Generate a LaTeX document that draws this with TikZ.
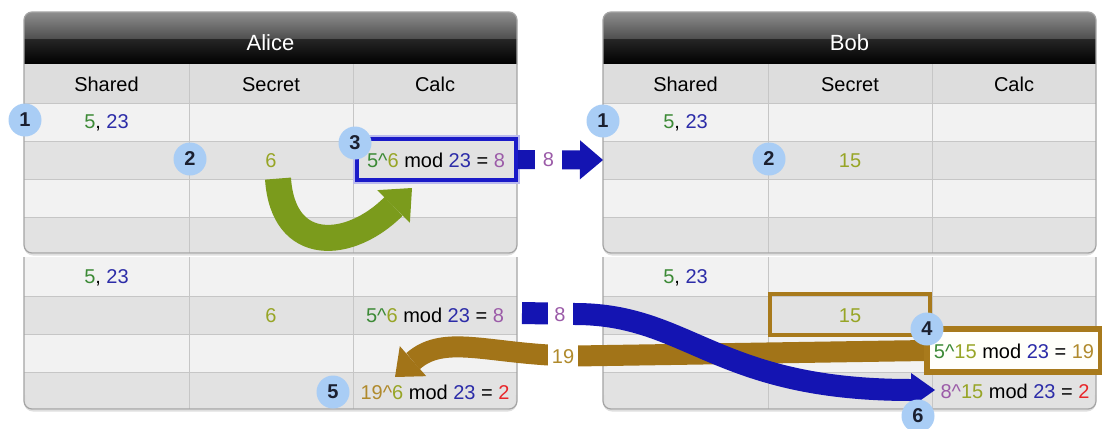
\documentclass[tikz,border=0pt]{standalone}
\usepackage{fontspec}
\setmainfont{Liberation Sans}
\usetikzlibrary{arrows.meta}

% table colours
\definecolor{hdrtop}{HTML}{8E8E8E}
\definecolor{hdrmid}{HTML}{4E4E4E}
\definecolor{hdrlow}{HTML}{262626}
\definecolor{colhead}{HTML}{DDDDDD}
\definecolor{rowlight}{HTML}{F2F2F2}
\definecolor{rowdark}{HTML}{E2E2E2}
\definecolor{gridc}{HTML}{C6C6C6}
\definecolor{framec}{HTML}{A4A4A4}
% text colours
\definecolor{tgreenc}{HTML}{3C8A36}
\definecolor{tbluec}{HTML}{2C2CA8}
\definecolor{tolivec}{HTML}{97A526}
\definecolor{tpurplec}{HTML}{9B5BA8}
\definecolor{tredc}{HTML}{E8262A}
\definecolor{tbrownc}{HTML}{B08A2C}
% markers and arrows
\definecolor{badgec}{HTML}{A9CDF5}
\definecolor{badgetext}{HTML}{1B2030}
\definecolor{arrowblue}{HTML}{1414B2}
\definecolor{arrowbrown}{HTML}{A27418}
\definecolor{arrowgreen}{HTML}{7B9B1C}
\definecolor{boxblue}{HTML}{1A1AC8}
\definecolor{boxbrown}{HTML}{A87A1C}

\newcommand\tgreen[1]{\textcolor{tgreenc}{#1}}
\newcommand\tblue[1]{\textcolor{tbluec}{#1}}
\newcommand\tolive[1]{\textcolor{tolivec}{#1}}
\newcommand\tpurple[1]{\textcolor{tpurplec}{#1}}
\newcommand\tred[1]{\textcolor{tredc}{#1}}
\newcommand\tbrown[1]{\textcolor{tbrownc}{#1}}
\newcommand\crt{\textasciicircum}

\tikzset{
  cell/.style={anchor=base, inner sep=0pt, text=black, font=\fontsize{10}{12}\selectfont},
  title/.style={anchor=base, inner sep=0pt, text=white, font=\fontsize{11}{13}\selectfont},
  badge/.style={circle, fill=badgec, minimum size=16.5pt, inner sep=0pt,
                text=badgetext, font=\bfseries\fontsize{10}{12}\selectfont},
  flowlabel/.style={fill=white, inner sep=0pt, font=\fontsize{10}{12}\selectfont},
  gridline/.style={draw=gridc, line width=0.5pt},
  frame/.style={draw=framec, line width=0.6pt},
  fatarrow/.style={line cap=butt, line join=round},
}

\begin{document}
\begin{tikzpicture}[x=0.5pt, y=-0.5pt]
\fill[white] (0,0) rectangle (1102,428);
\useasboundingbox (0,0) rectangle (1102,428);

% ---------- the four tables ----------
\foreach \ox/\nm/\ttl in {0/a/Alice, 579/b/Bob}{
  \begin{scope}[shift={(\ox,0)}]
    % upper table with dark title bar
    \begin{scope}
      \clip[rounded corners=4pt] (24,12) rectangle (517,253);
      \shade[top color=hdrtop, bottom color=hdrmid] (24,12) rectangle (517,39);
      \shade[top color=hdrlow, bottom color=black] (24,39) rectangle (517,64);
      \fill[colhead]  (24,64)  rectangle (517,103);
      \fill[rowlight] (24,103) rectangle (517,141);
      \fill[rowdark]  (24,141) rectangle (517,179);
      \fill[rowlight] (24,179) rectangle (517,217);
      \fill[rowdark]  (24,217) rectangle (517,253);
      \draw[gridline] (24,103) -- (517,103) (24,141) -- (517,141)
                      (24,179) -- (517,179) (24,217) -- (517,217);
      \draw[gridline] (189,64) -- (189,253) (353,64) -- (353,253);
    \end{scope}
    \draw[gray!25, line width=1pt, rounded corners=4pt] (25,240) -- (25,254.5) -- (516,254.5) -- (516,240);
    \draw[frame, rounded corners=4pt] (24,12) rectangle (517,253);
    % lower table, continuing the rows
    \begin{scope}
      \clip[rounded corners=4pt] (24,230) rectangle (517,409);
      \fill[rowlight] (24,257) rectangle (517,296);
      \fill[rowdark]  (24,296) rectangle (517,334);
      \fill[rowlight] (24,334) rectangle (517,372);
      \fill[rowdark]  (24,372) rectangle (517,409);
      \draw[gridline] (24,296) -- (517,296) (24,334) -- (517,334) (24,372) -- (517,372);
      \draw[gridline] (189,257) -- (189,409) (353,257) -- (353,409);
    \end{scope}
    \draw[gray!25, line width=1pt, rounded corners=4pt] (25,395) -- (25,410.5) -- (516,410.5) -- (516,395);
    \draw[frame, rounded corners=4pt] (24,257) -- (24,409) -- (517,409) -- (517,257);
    % titles and column heads
    \node[title] (\nm-title) at (270.5,50) {\ttl};
    \node[cell] (\nm-hshared) at (106.5,91) {Shared};
    \node[cell] (\nm-hsecret) at (271,91) {Secret};
    \node[cell] (\nm-hcalc)   at (435,91) {Calc};
    % public values, both halves
    \node[cell] (\nm-pub1) at (106.5,128) {\tgreen{5}, \tblue{23}};
    \node[cell] (\nm-pub2) at (106.5,283) {\tgreen{5}, \tblue{23}};
  \end{scope}
}

% ---------- cell contents ----------
\node[cell] (a-six)  at (271,167) {\tolive{6}};
\node[cell] (b-fift) at (850,167) {\tolive{15}};

\draw[boxblue!30, line width=4pt] (357,139) rectangle (516,180);
\node[draw=boxblue, line width=2pt, fill=rowdark, minimum width=79.5pt,
      minimum height=20.5pt, inner sep=0pt] (a-box) at (436.5,159.5) {};
\node[cell] (a-calc1) at (436,167)
  {\tgreen{5\crt}\tolive{6} mod \tblue{23} = \tpurple{8}};

\node[cell] (a-six2)  at (271,322) {\tolive{6}};
\node[cell] (a-calc2) at (435,322)
  {\tgreen{5\crt}\tolive{6} mod \tblue{23} = \tpurple{8}};
\node[cell] (a-calc3) at (435,399)
  {\tbrown{19\crt}\tolive{6} mod \tblue{23} = \tred{2}};

\node[draw=boxbrown, line width=2pt, minimum width=80pt, minimum height=20.5pt,
      inner sep=0pt] (b-box15) at (850,314.5) {};
\node[cell] (b-fift2) at (850,322) {\tolive{15}};
\node[cell] (b-calc4) at (1015,398)
  {\tpurple{8\crt}\tolive{15} mod \tblue{23} = \tred{2}};

% ---------- exchanged values ----------
\coordinate (b-entry) at (603,160);
\draw[arrowblue, fatarrow, line width=9.5pt,
      -{Triangle[length=11.5pt, width=19.5pt, line width=0pt]}] (a-box.east) -- (b-entry);

\coordinate (g-end) at (412,188);
\draw[arrowgreen, fatarrow, line width=13pt,
      -{Triangle[length=13pt, width=23pt, line width=0pt]}]
  ([shift={(7,11)}]a-six.south) .. controls (283,255) and (350,250) .. (g-end);

\node[draw=boxbrown, line width=2pt, fill=white!98!yellow, minimum width=86pt,
      minimum height=20.5pt, inner sep=0pt] (b-box4) at (1014,350.5) {};

\coordinate (a-in) at (395,377);
\draw[arrowbrown, fatarrow, line width=10.5pt,
      -{Triangle[length=12pt, width=20pt, line width=0pt]}]
  (b-box4.west) -- (575,356) .. controls (490,355) and (445,333) .. (a-in);
\draw[boxbrown, line width=2pt] (b-box4.north west) rectangle (b-box4.south east);
\node[cell] (b-calc3) at (1014,358)
  {\tgreen{5\crt}\tolive{15} mod \tblue{23} = \tbrown{19}};

\coordinate (a-out) at (522,313);
\coordinate (b-in) at (935,390);
\draw[arrowblue, fatarrow, line width=11pt,
      -{Triangle[length=12pt, width=17pt, line width=0pt]}]
  (a-out) -- (575,314) .. controls (690,314) and (715,390) .. (b-in);

\node[flowlabel, minimum width=13.5pt, minimum height=12pt] (lbl-a) at (548.5,160) {\tpurple{8}};
\node[flowlabel, minimum width=12.5pt, minimum height=16pt] (lbl-b) at (560,315) {\tpurple{8}};
\node[flowlabel, minimum width=15pt, minimum height=16pt] (lbl-c) at (563,357) {\tbrown{19}};

% ---------- step markers ----------
\node[badge] (s1a) at (25,120)  {1};
\node[badge] (s2a) at (190,159) {2};
\node[badge] (s3)  at (355,143) {3};
\node[badge] (s1b) at (603,121) {1};
\node[badge] (s2b) at (769,159) {2};
\node[badge] (s4)  at (927,329) {4};
\node[badge] (s5)  at (333,392) {5};
\node[badge] (s6)  at (918,416) {6};
\end{tikzpicture}
\end{document}
